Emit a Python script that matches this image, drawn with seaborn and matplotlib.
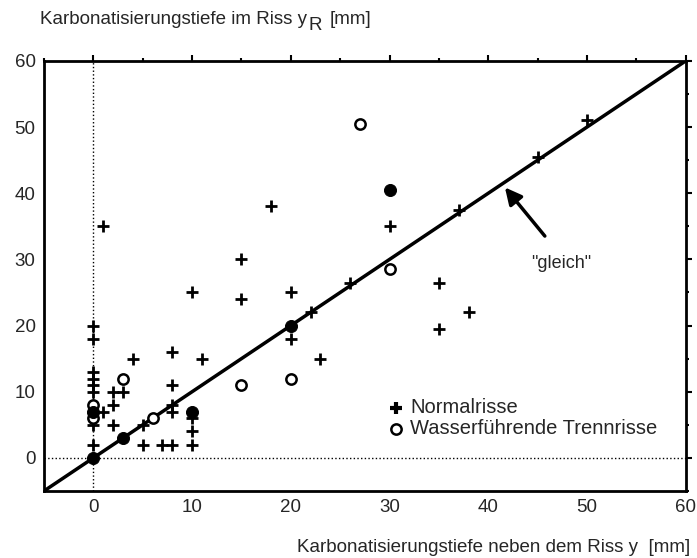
# scatter plot: carbonation depth in the crack vs. next to the crack
import numpy as np
import pandas as pd
import seaborn as sns
import matplotlib.pyplot as plt

# Normalrisse (plus markers)
plus_x = [1, 0, 0, 10, 15, 15, 8, 18, 30, 20, 26, 22, 20, 35, 38, 35, 37, 45, 50,
          23, 4, 11, 8, 0, 0, 0, 0, 2, 3, 2, 1, 8, 8, 2, 5, 0, 5, 7, 8, 10, 10, 10, 0]
plus_y = [35, 20, 18, 25, 30, 24, 16, 38, 35, 25, 26.5, 22, 18, 26.5, 22, 19.5, 37.5, 45.5, 51,
          15, 15, 15, 11, 13, 12, 11, 10, 10, 10, 8, 7, 8, 7, 5, 5, 5, 2, 2, 2, 2, 4, 6, 2]

# Wasserfuehrende Trennrisse (open circles)
open_x = [0, 0, 3, 6, 15, 20, 27, 30]
open_y = [8, 6, 12, 6, 11, 12, 50.5, 28.5]

# filled circles
full_x = [0, 3, 20, 30, 10, 0]
full_y = [0, 3, 20, 40.5, 7, 7]

# "gleich" line
diag = [-5, 60]
ticks = [0, 10, 20, 30, 40, 50, 60]

sns.set_style("white")
plt.rcParams['font.family'] = ['Liberation Sans', 'DejaVu Sans']

fig, ax = plt.subplots(figsize=(6.97, 5.58), dpi=100)
fig.subplots_adjust(left=0.063, right=0.984, bottom=0.12, top=0.891)

# dotted zero lines
ax.axhline(0, color="black", lw=1, ls=":")
ax.axvline(0, color="black", lw=1, ls=":")

sns.lineplot(x=diag, y=diag, color="black", lw=2.5, ax=ax)

sns.scatterplot(x=plus_x, y=plus_y, marker="+", s=80, color="black", linewidth=2,
                label="Normalrisse", ax=ax, zorder=3)
sns.scatterplot(x=open_x, y=open_y, marker="o", s=55, facecolor="white", edgecolor="black",
                linewidth=1.8, label="Wasserführende Trennrisse", ax=ax, zorder=4)
sns.scatterplot(x=full_x, y=full_y, marker="o", s=75, color="black", edgecolor="black",
                ax=ax, zorder=4, legend=False)

# arrow and label
ax.annotate("", xy=(41.5, 41.2), xytext=(45.9, 33.2),
            arrowprops=dict(arrowstyle="-|>", color="black", lw=2.5, mutation_scale=25))
ax.text(47.4, 29.4, '"gleich"', fontsize=13, ha="center", va="center")

leg = ax.legend(loc="upper left", bbox_to_anchor=(0.52, 0.235), frameon=False, fontsize=14.5,
                handletextpad=0.2, borderaxespad=0, labelspacing=0.1, handlelength=1)
leg.legend_handles[0].set_linewidth(3)

ax.set_xlim(-5, 60)
ax.set_ylim(-5, 60)
ax.set_xticks(ticks)
ax.set_yticks(ticks)
ax.set_xticks([-5, 5, 15, 25, 35, 45, 55], minor=True)
ax.set_yticks([-5, 5, 15, 25, 35, 45, 55], minor=True)
ax.tick_params(which="both", direction="out", top=True, right=True, color="black",
               labelsize=13.5, pad=2)
ax.tick_params(which="major", length=4, width=1.5)
ax.tick_params(which="minor", length=2.5, width=1.5)
for sp in ax.spines.values():
    sp.set_color("black")
    sp.set_linewidth(2)

# axis titles
t1 = fig.text(40 / 697, 1 - 20 / 558, "Karbonatisierungstiefe im Riss y", fontsize=13.5,
              va="center", ha="left")
ax.annotate("R", xy=(1, 0), xycoords=t1, xytext=(1, -4), textcoords="offset points",
            fontsize=13.5, va="bottom", ha="left")
ax.annotate("[mm]", xy=(1, 0), xycoords=t1, xytext=(16, 0), textcoords="offset points",
            fontsize=13.5, va="bottom", ha="left")
fig.text(690 / 697, 1 - 548 / 558, "Karbonatisierungstiefe neben dem Riss y  [mm]",
         fontsize=13.5, va="center", ha="right")

fig.savefig("out.png", dpi=100)
